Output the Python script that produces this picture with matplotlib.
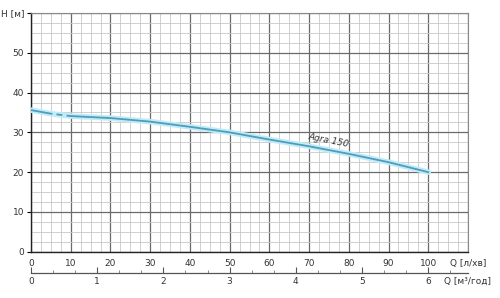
import numpy as np
import matplotlib
matplotlib.use("Agg")
import matplotlib.pyplot as plt
from matplotlib.ticker import MultipleLocator

# pump curve Agra 150
q_lmin = [0, 5, 10, 20, 30, 40, 50, 60, 70, 80, 90, 100]
head_m = [35.6, 34.7, 34.1, 33.6, 32.7, 31.4, 30.0, 28.2, 26.5, 24.6, 22.5, 20.0]

x_ticks = [0, 10, 20, 30, 40, 50, 60, 70, 80, 90, 100, 110]
x_labels = ['0', '10', '20', '30', '40', '50', '60', '70', '80', '90', '100', 'Q [л/хв]']
y_ticks = [0, 10, 20, 30, 40, 50, 60]
y_labels = ['0', '10', '20', '30', '40', '50', 'H [м]']
m3_ticks = [0, 1, 2, 3, 4, 5, 6, 6.6]
m3_labels = ['0', '1', '2', '3', '4', '5', '6', 'Q [м³/год]']

plt.rcParams['font.family'] = ['DejaVu Sans']
txt = '#333333'

fig = plt.figure(figsize=(5.0, 2.98), dpi=100)
ax = fig.add_axes([0.062, 0.1554, 0.874, 0.8008])
ax.set_xlim(0, 110)
ax.set_ylim(0, 60)

ax.xaxis.set_minor_locator(MultipleLocator(2.5))
ax.yaxis.set_minor_locator(MultipleLocator(2.5))
ax.set_xticks(x_ticks)
ax.set_xticklabels(x_labels)
ax.set_yticks(y_ticks)
ax.set_yticklabels(y_labels)
ax.grid(which='major', color='#6a6a6a', lw=0.9)
ax.grid(which='minor', color='#c8c8c8', lw=0.6)
ax.set_axisbelow(True)

ax.tick_params(axis='x', which='both', length=0, pad=5, labelsize=6.5, labelcolor=txt)
ax.tick_params(axis='y', which='major', length=3, width=0.8, pad=2, labelsize=6.5, labelcolor=txt)
ax.tick_params(axis='y', which='minor', length=0)
for s in ['left', 'bottom']:
    ax.spines[s].set_color('#222222')
    ax.spines[s].set_linewidth(1.0)
for s in ['top', 'right']:
    ax.spines[s].set_color('#888888')
    ax.spines[s].set_linewidth(0.8)

# curve: light glow + darker core, dashed near shut-off
ax.plot(q_lmin, head_m, color='#c0ecf7', lw=4, solid_capstyle='round', zorder=3)
q = np.array(q_lmin, dtype=float)
h = np.array(head_m, dtype=float)
ax.plot(q[q >= 10], h[q >= 10], color='#4f9cbc', lw=1.3, zorder=4)
ax.plot(q[q <= 10], h[q <= 10], color='#4f9cbc', lw=1.3, zorder=4,
        dashes=(12, 2.3, 3.3, 2.3, 30, 1))
ax.text(75, 27.9, 'Agra 150', rotation=-11, style='italic', fontsize=6.5,
        color=txt, ha='center', va='center', zorder=5)

# second Q scale in m3/h
sec = ax.secondary_xaxis(-0.088, functions=(lambda v: v * 6 / 100, lambda v: v * 100 / 6))
sec.set_xticks(m3_ticks)
sec.set_xticklabels(m3_labels)
sec.xaxis.set_minor_locator(MultipleLocator(1 / 3))
sec.tick_params(axis='x', which='major', direction='in', length=4, width=0.8,
                pad=3, labelsize=6.5, labelcolor=txt, color='#555555')
sec.tick_params(axis='x', which='minor', direction='in', length=2, width=0.6, color='#777777')
sec.spines['bottom'].set_color('#555555')
sec.spines['bottom'].set_linewidth(0.9)
# no tick mark on the unit label position
sec.xaxis.get_major_ticks()[-1].tick1line.set_visible(False)

fig.savefig('out.png', dpi=100)
